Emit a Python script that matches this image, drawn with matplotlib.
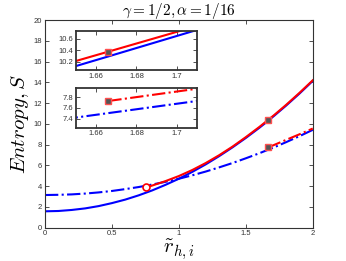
import numpy as np
import matplotlib
matplotlib.use('Agg')
import matplotlib.pyplot as plt

plt.rcParams['mathtext.fontset'] = 'cm'
plt.rcParams['font.family'] = ['Liberation Sans', 'DejaVu Sans']

# curvas
r_blue = [0, 0.1, 0.2, 0.3, 0.4, 0.5, 0.6, 0.7, 0.8, 0.9, 1.0, 1.1, 1.2,
          1.3, 1.4, 1.5, 1.6, 1.65, 1.666, 1.71, 1.8, 1.9, 2.0]
s_blue = [1.57, 1.60, 1.70, 1.85, 2.07, 2.36, 2.70, 3.11, 3.58, 4.12, 4.71,
          5.37, 6.09, 6.88, 7.73, 8.64, 9.61, 10.12, 10.29, 10.76, 11.75,
          12.91, 14.14]

r_blue_dd = [0, 0.1, 0.2, 0.3, 0.4, 0.5, 0.6, 0.7, 0.8, 0.9, 1.0, 1.1, 1.2,
             1.3, 1.4, 1.5, 1.6, 1.65, 1.71, 1.8, 1.9, 2.0]
s_blue_dd = [3.14, 3.16, 3.20, 3.28, 3.39, 3.53, 3.71, 3.91, 4.15, 4.41, 4.71,
             5.04, 5.40, 5.80, 6.22, 6.68, 7.16, 7.42, 7.73, 8.23, 8.81, 9.42]

r_red = [0.756, 0.8, 0.9, 1.0, 1.1, 1.2, 1.3, 1.4, 1.5, 1.6, 1.65, 1.666,
         1.71, 1.8, 1.9, 2.0]
s_red = [3.87, 4.05, 4.48, 4.97, 5.55, 6.22, 6.97, 7.80, 8.72, 9.69, 10.21,
         10.375, 10.83, 11.82, 12.98, 14.20]

r_red_dd = [1.666, 1.71, 1.8, 1.9, 2.0]
s_red_dd = [7.73, 7.96, 8.45, 8.99, 9.55]

circ = (0.756, 3.87)
sq_top = (1.666, 10.375)
sq_bot = (1.666, 7.73)

xticks = [0, 0.5, 1, 1.5, 2]
yticks = list(range(0, 21, 2))

tick_col = '#333333'


def draw(ax, lw=1.5, ms=5):
    ax.plot(r_blue, s_blue, '-', color='#0000ff', lw=lw)
    ax.plot(r_blue_dd, s_blue_dd, '-.', color='#0000ff', lw=lw)
    ax.plot(r_red, s_red, '-', color='#ff0000', lw=lw)
    ax.plot(r_red_dd, s_red_dd, '-.', color='#ff0000', lw=lw)
    ax.plot(*circ, 'o', mfc='white', mec='#ff0000', ms=ms, mew=1.2)
    for p in (sq_top, sq_bot):
        ax.plot(*p, 's', mfc='#555555', mec='#ff5050', ms=ms, mew=1.0)


def style(ax, lw=0.8):
    ax.tick_params(direction='in', top=True, right=True, labelsize=5.5,
                   colors=tick_col, length=3, width=0.6, pad=2)
    for sp in ax.spines.values():
        sp.set_color('#333333')
        sp.set_linewidth(lw)


fig = plt.figure(figsize=(3.46, 2.61), dpi=100)
ax = fig.add_axes([0.130, 0.128, 0.774, 0.795])
draw(ax)
ax.set_xlim(0, 2)
ax.set_ylim(0, 20)
ax.set_xticks(xticks)
ax.set_xticklabels(['0', '0.5', '1', '1.5', '2'])
ax.set_yticks(yticks)
style(ax)
ax.set_title(r'$\gamma=1/2, \alpha=1/16$', fontsize=11, pad=4)
ax.set_ylabel(r'$Entropy, S$', fontsize=15, labelpad=2)
ax.set_xlabel(r'$\tilde{r}_{h,i}$', fontsize=15, labelpad=0)

# inset de cima
ax1 = fig.add_axes([0.220, 0.732, 0.349, 0.151])
draw(ax1)
ax1.set_xlim(1.65, 1.71)
ax1.set_ylim(10.05, 10.75)
ax1.set_xticks([1.66, 1.68, 1.7])
ax1.set_xticklabels(['1.66', '1.68', '1.7'])
ax1.set_yticks([10.2, 10.4, 10.6])
style(ax1, lw=1.3)

# inset de baixo
ax2 = fig.add_axes([0.220, 0.511, 0.349, 0.151])
draw(ax2)
ax2.set_xlim(1.65, 1.71)
ax2.set_ylim(7.23, 7.97)
ax2.set_xticks([1.66, 1.68, 1.7])
ax2.set_xticklabels(['1.66', '1.68', '1.7'])
ax2.set_yticks([7.4, 7.6, 7.8])
style(ax2, lw=1.3)

fig.savefig('out.png', dpi=100)
